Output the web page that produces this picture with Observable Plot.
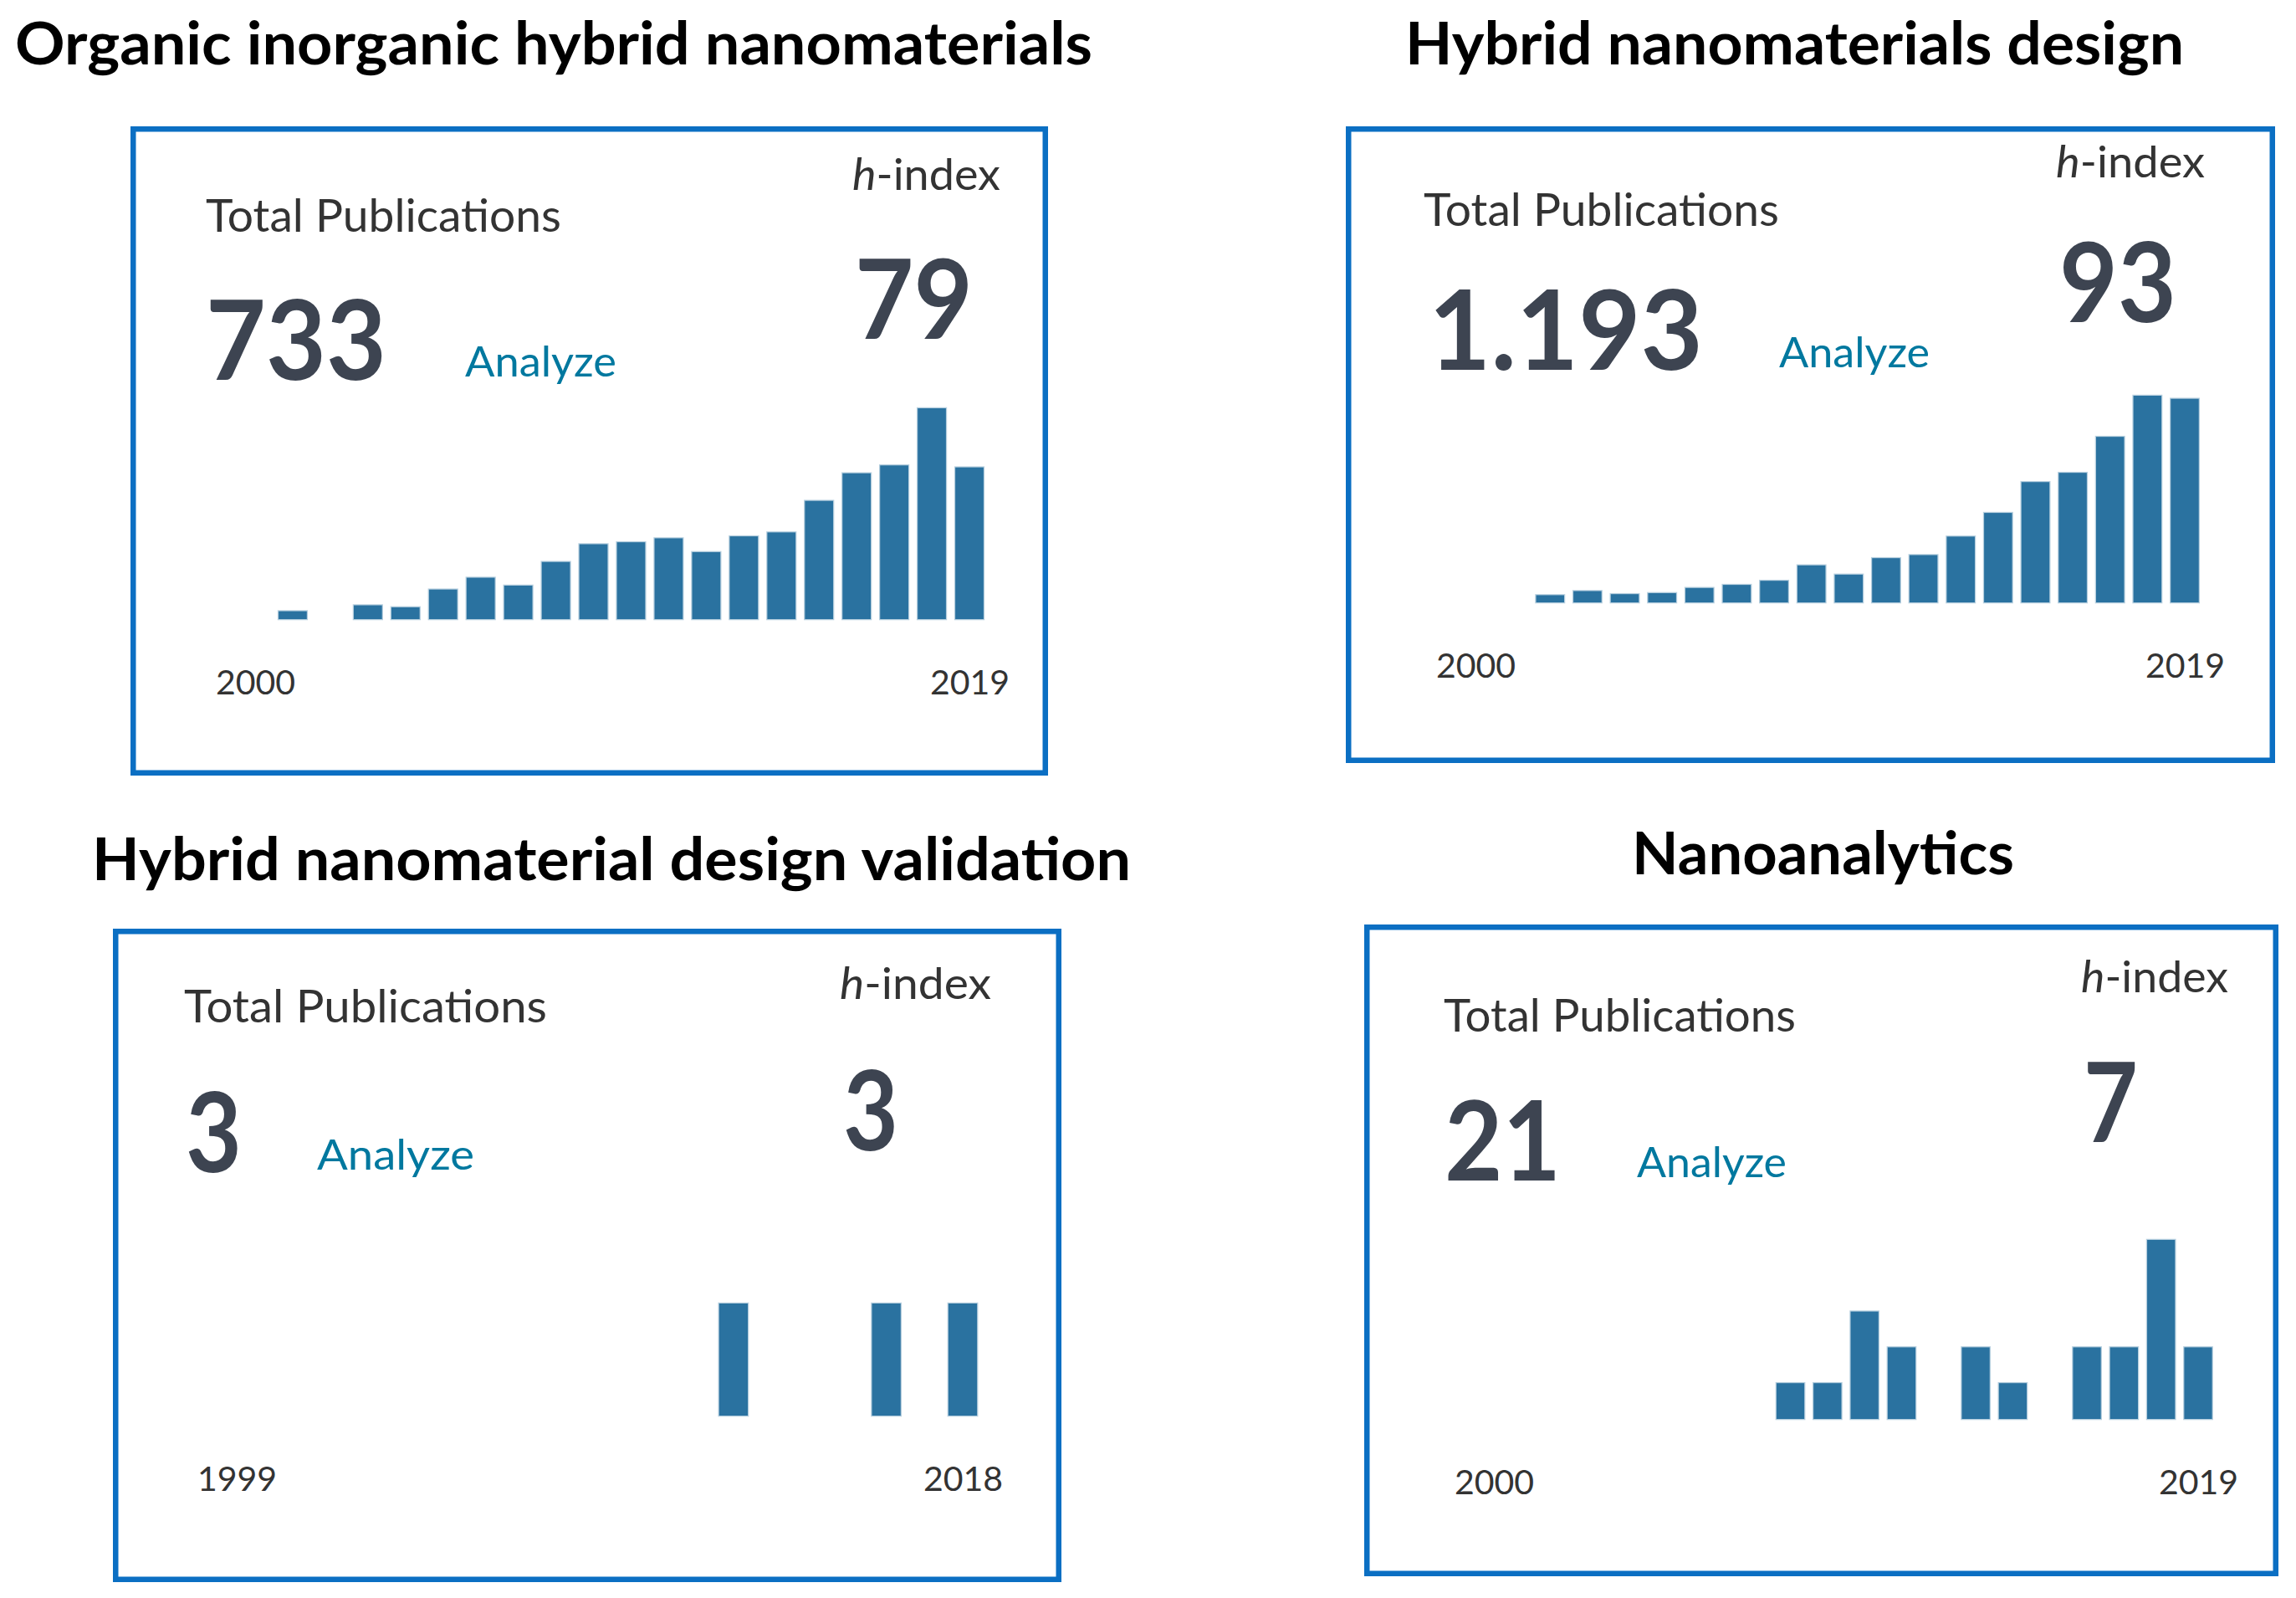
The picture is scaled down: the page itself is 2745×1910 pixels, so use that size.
<!DOCTYPE html>
<html>
<head>
<meta charset="utf-8">
<script src="https://cdn.jsdelivr.net/npm/d3@7"></script>
<script src="https://cdn.jsdelivr.net/npm/@observablehq/plot@0.6"></script>
<style>
  html, body { margin: 0; padding: 0; background: #fff; }
  #page { position: relative; width: 2745px; height: 1910px; overflow: hidden; background: #fff; }
  .chart { position: absolute; }
  #overlay { position: absolute; left: 0; top: 0; pointer-events: none; }
</style>
</head>
<body>
<div id="page"></div>
<script>
// ---------------- DATA ----------------
const panelTitles = [
  "Organic inorganic hybrid nanomaterials",
  "Hybrid nanomaterials design",
  "Hybrid nanomaterial design validation",
  "Nanoanalytics"
];
const totalPublications = ["733", "1.193", "3", "21"];
const hIndex = ["79", "93", "3", "7"];
const labelTotal = "Total Publications";
const labelAnalyze = "Analyze";

const years1 = [2000, 2001, 2002, 2003, 2004, 2005, 2006, 2007, 2008, 2009, 2010, 2011, 2012, 2013, 2014, 2015, 2016, 2017, 2018, 2019];
const pubs1  = [0, 4, 0, 7, 6, 15, 21, 17, 29, 38, 39, 41, 34, 42, 44, 60, 74, 78, 107, 77];
const ticks1 = [2000, 2019];

const years2 = [2000, 2001, 2002, 2003, 2004, 2005, 2006, 2007, 2008, 2009, 2010, 2011, 2012, 2013, 2014, 2015, 2016, 2017, 2018, 2019];
const pubs2  = [0, 0, 7, 11, 8, 9, 14, 17, 21, 36, 27, 43, 46, 64, 87, 117, 126, 161, 201, 198];
const ticks2 = [2000, 2019];

const years3 = [1999, 2000, 2001, 2002, 2003, 2004, 2005, 2006, 2007, 2008, 2009, 2010, 2011, 2012, 2013, 2014, 2015, 2016, 2017, 2018];
const pubs3  = [0, 0, 0, 0, 0, 0, 0, 0, 0, 0, 0, 0, 0, 1, 0, 0, 0, 1, 0, 1];
const ticks3 = [1999, 2018];

const years4 = [2000, 2001, 2002, 2003, 2004, 2005, 2006, 2007, 2008, 2009, 2010, 2011, 2012, 2013, 2014, 2015, 2016, 2017, 2018, 2019];
const pubs4  = [0, 0, 0, 0, 0, 0, 0, 0, 1, 1, 3, 2, 0, 2, 1, 0, 2, 2, 5, 2];
const ticks4 = [2000, 2019];

// ---------------- LAYOUT (pixel positions only) ----------------
const layout = [
  { box: {l:156, t:151, r:1253, b:927}, c0:305, cN:1159, yTop:488, yBase:740,
    title:{x:18, y:77, w:1288}, tp:{x:246, y:277, w:425}, num:{x:246, y:454, w:216},
    an:{x:556, y:450, w:181}, hi:{x:1019, y:227, w:177}, hn:{x:1022, y:405, w:141} },
  { box: {l:1609, t:151, r:2720, b:912}, c0:1764, cN:2612, yTop:473, yBase:720,
    title:{x:1680, y:77, w:931}, tp:{x:1702, y:270, w:425}, num:{x:1708, y:442, w:328},
    an:{x:2127, y:439, w:180}, hi:{x:2458, y:212, w:178}, hn:{x:2462, y:385, w:140} },
  { box: {l:135, t:1110, r:1269, b:1891}, c0:283, cN:1151, yTop:1558, yBase:1692,
    title:{x:110, y:1052, w:1242}, tp:{x:220, y:1222, w:434}, num:{x:222, y:1401, w:67},
    an:{x:379, y:1398, w:188}, hi:{x:1004, y:1194, w:181}, hn:{x:1008, y:1375, w:66} },
  { box: {l:1631, t:1105, r:2724, b:1884}, c0:1786, cN:2628, yTop:1482, yBase:1696,
    title:{x:1951, y:1045, w:457}, tp:{x:1726, y:1233, w:421}, num:{x:1727, y:1411, w:139},
    an:{x:1957, y:1407, w:179}, hi:{x:2488, y:1186, w:176}, hn:{x:2491, y:1365, w:65} }
];

const series = [
  {years: years1, values: pubs1, ticks: ticks1},
  {years: years2, values: pubs2, ticks: ticks2},
  {years: years3, values: pubs3, ticks: ticks3},
  {years: years4, values: pubs4, ticks: ticks4}
];

const FONT = "Lato, 'Noto Sans', sans-serif";
const BAR = "#2a72a0";
const page = document.getElementById("page");

// ---------------- BAR CHARTS ----------------
series.forEach((s, i) => {
  const L = layout[i];
  const n = s.years.length;
  const step = (L.cN - L.c0) / (n - 1);
  const W = L.box.r - L.box.l, H = L.box.b - L.box.t;
  const data = s.years.map((y, k) => ({year: y, n: s.values[k]}));
  const chart = Plot.plot({
    width: W,
    height: H,
    marginLeft: (L.c0 - step / 2) - L.box.l,
    marginRight: L.box.r - (L.cN + step / 2),
    marginTop: L.yTop - L.box.t,
    marginBottom: L.box.b - L.yBase,
    x: {type: "band", domain: s.years, paddingInner: 0.25, paddingOuter: 0.125, round: false},
    y: {domain: [0, d3.max(s.values)], axis: null},
    style: {fontFamily: FONT, fontSize: "41px", color: "#333", background: "transparent", maxWidth: "none"},
    marks: [
      Plot.barY(data, {x: "year", y: "n", filter: d => d.n > 0, fill: BAR,
        stroke: BAR, strokeOpacity: 0.35, strokeWidth: 2.5}),
      Plot.axisX({ticks: s.ticks, tickSize: 0, tickPadding: 60, fontSize: 41, label: null,
        tickFormat: d => String(d), fill: "#333"})
    ]
  });
  const wrap = document.createElement("div");
  wrap.className = "chart";
  wrap.style.left = L.box.l + "px";
  wrap.style.top = L.box.t + "px";
  wrap.appendChild(chart);
  page.appendChild(wrap);
});

// ---------------- OVERLAY: boxes and texts ----------------
const NS = "http://www.w3.org/2000/svg";
const ov = document.createElementNS(NS, "svg");
ov.setAttribute("id", "overlay");
ov.setAttribute("width", 2745);
ov.setAttribute("height", 1910);
ov.setAttribute("font-family", FONT);
page.appendChild(ov);

function addText(parts, o) {
  const t = document.createElementNS(NS, "text");
  t.setAttribute("x", o.x);
  t.setAttribute("y", o.y);
  t.setAttribute("font-size", o.size);
  t.setAttribute("font-weight", o.weight || 400);
  t.setAttribute("fill", o.fill);
  if (o.w) {
    t.setAttribute("textLength", o.w);
    t.setAttribute("lengthAdjust", "spacingAndGlyphs");
  }
  parts.forEach(p => {
    const ts = document.createElementNS(NS, "tspan");
    ts.textContent = p.text;
    if (p.italic) ts.setAttribute("font-style", "italic");
    t.appendChild(ts);
  });
  ov.appendChild(t);
}

const BW = 6.5;
layout.forEach((L, i) => {
  const r = document.createElementNS(NS, "rect");
  r.setAttribute("x", L.box.l + BW / 2);
  r.setAttribute("y", L.box.t + BW / 2);
  r.setAttribute("width", L.box.r - L.box.l - BW);
  r.setAttribute("height", L.box.b - L.box.t - BW);
  r.setAttribute("fill", "none");
  r.setAttribute("stroke", "#0b6fc3");
  r.setAttribute("stroke-width", BW);
  ov.appendChild(r);

  addText([{text: panelTitles[i]}], {...L.title, size: 71, weight: 700, fill: "#000"});
  addText([{text: labelTotal}], {...L.tp, size: 54, fill: "#333"});
  addText([{text: totalPublications[i]}], {...L.num, size: 132, weight: 700, fill: "#3d4451"});
  addText([{text: labelAnalyze}], {...L.an, size: 51, fill: "#00789f"});
  addText([{text: "h", italic: true}, {text: "-index"}], {...L.hi, size: 52, fill: "#333"});
  addText([{text: hIndex[i]}], {...L.hn, size: 132, weight: 700, fill: "#3d4451"});
});
</script>
</body>
</html>
